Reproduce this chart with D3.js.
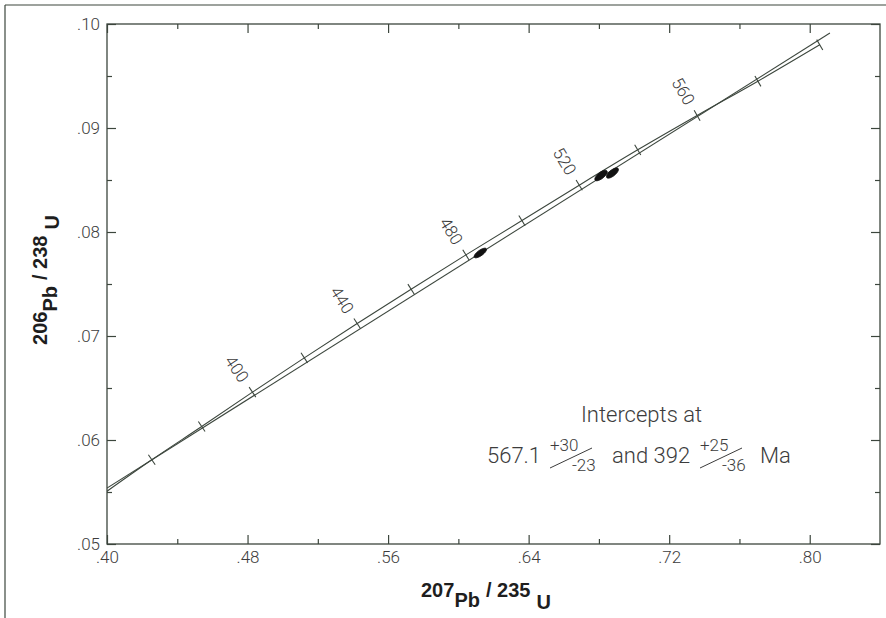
<!DOCTYPE html>
<html>
<head>
<meta charset="utf-8">
<script src="https://cdn.jsdelivr.net/npm/d3@7"></script>
<style>
  body { margin: 0; background: #fff; }
  text { font-family: Roboto, "Liberation Sans", sans-serif; }
</style>
</head>
<body>
<script>
// Concordia points (age in Ma, 207Pb/235U, 206Pb/238U).
var concAges = [340, 360, 380, 400, 420, 440, 460, 480, 500, 520, 540, 560, 580, 600];
var concX = [0.3977, 0.4255, 0.4539, 0.4828, 0.5123, 0.5424, 0.5731, 0.6043, 0.6362, 0.6688, 0.7021, 0.7359, 0.7705, 0.8057];
var concY = [0.0548, 0.0581, 0.0613, 0.0646, 0.0679, 0.0712, 0.0745, 0.0778, 0.0811, 0.0845, 0.0879, 0.0912, 0.0945, 0.0980];
var labelledAges = [400, 440, 480, 520, 560];

// Discordia line end points.
var discX = [0.400, 0.8115];
var discY = [0.05538, 0.09913];

// Analyses: centre, half-widths and correlation of the error ellipses.
var ptX = [0.6125, 0.6812, 0.6877];
var ptY = [0.07798, 0.08543, 0.08567];
var ptSx = [0.0035, 0.0035, 0.0034];
var ptSy = [0.00046, 0.00050, 0.00049];
var ptRho = [0.74, 0.70, 0.70];

// Intercept ages with errors.
var intercepts = ["567.1", "392"];
var errPlus = ["+30", "+25"];
var errMinus = ["-23", "-36"];

// Axis ticks.
var xMajor = [0.40, 0.48, 0.56, 0.64, 0.72, 0.80];
var xMinor = [0.44, 0.52, 0.60, 0.68, 0.76];
var yMajor = [0.05, 0.06, 0.07, 0.08, 0.09, 0.10];
var yMinor = [0.055, 0.065, 0.075, 0.085, 0.095];

var W = 886, H = 618;
var ink = "#3c463d";
var grey = "#3c3c3c";

var svg = d3.select("body").append("svg")
    .attr("width", W)
    .attr("height", H);

// Scanned page frame (top and left edges).
svg.append("line").attr("x1", 5).attr("x2", W).attr("y1", 5).attr("y2", 5)
    .attr("stroke", ink).attr("stroke-width", 1.2);
svg.append("line").attr("x1", 5).attr("x2", 5).attr("y1", 5).attr("y2", H)
    .attr("stroke", ink).attr("stroke-width", 1.2);

var x = d3.scaleLinear().domain([0.40, 0.84]).range([107, 880]);
var y = d3.scaleLinear().domain([0.05, 0.10]).range([544, 24]);

var fmt = v => d3.format(".2f")(v).replace(/^0/, "");

// Axes: ticks point inward on all four sides.
function addAxis(axis, tx, ty, vals, size, labels) {
    var g = svg.append("g")
        .attr("transform", "translate(" + tx + "," + ty + ")")
        .call(axis.tickValues(vals).tickSize(size).tickPadding(labels ? 7 : 0)
            .tickFormat(labels ? fmt : ""));
    g.select(".domain").remove();
    g.selectAll(".tick line").attr("stroke", ink).attr("stroke-width", 1.2);
    g.selectAll(".tick text")
        .attr("fill", grey)
        .style("font-size", "17px")
        .style("font-weight", 300);
    return g;
}

addAxis(d3.axisBottom(x), 0, y(0.05), xMajor, -9, true);
addAxis(d3.axisBottom(x), 0, y(0.05), xMinor, -5, false);
addAxis(d3.axisTop(x), 0, y(0.10), xMajor, -9, false);
addAxis(d3.axisTop(x), 0, y(0.10), xMinor, -5, false);
addAxis(d3.axisLeft(y), x(0.40), 0, yMajor, -9, true);
addAxis(d3.axisLeft(y), x(0.40), 0, yMinor, -5, false);
addAxis(d3.axisRight(y), x(0.84), 0, yMajor, -9, false);
addAxis(d3.axisRight(y), x(0.84), 0, yMinor, -5, false);

svg.append("rect")
    .attr("x", x(0.40)).attr("y", y(0.10))
    .attr("width", x(0.84) - x(0.40)).attr("height", y(0.05) - y(0.10))
    .attr("fill", "none").attr("stroke", ink).attr("stroke-width", 1.3);

svg.append("clipPath").attr("id", "plot")
    .append("rect")
    .attr("x", x(0.40)).attr("y", y(0.10))
    .attr("width", x(0.84) - x(0.40)).attr("height", y(0.05) - y(0.10));

var plot = svg.append("g").attr("clip-path", "url(#plot)");

// Concordia curve.
var conc = concAges.map((a, i) => ({ age: a, x: concX[i], y: concY[i] }));
plot.append("path")
    .datum(conc)
    .attr("fill", "none")
    .attr("stroke", ink)
    .attr("stroke-width", 1.1)
    .attr("d", d3.line().x(d => x(d.x)).y(d => y(d.y)).curve(d3.curveCatmullRom));

// Discordia line.
plot.append("line")
    .attr("x1", x(discX[0])).attr("y1", y(discY[0]))
    .attr("x2", x(discX[1])).attr("y2", y(discY[1]))
    .attr("stroke", ink)
    .attr("stroke-width", 1.1);

// Age ticks across the concordia, perpendicular to the curve.
conc.forEach((d, i) => {
    if (i === 0) return;
    var p = conc[i - 1], n = conc[Math.min(i + 1, conc.length - 1)];
    var dx = x(n.x) - x(p.x), dy = y(n.y) - y(p.y);
    var len = Math.sqrt(dx * dx + dy * dy);
    var nx = -dy / len, ny = dx / len; // normal vector
    var cx = x(d.x), cy = y(d.y);
    svg.append("line")
        .attr("x1", cx - nx * 6).attr("y1", cy - ny * 6)
        .attr("x2", cx + nx * 6).attr("y2", cy + ny * 6)
        .attr("stroke", ink).attr("stroke-width", 1.1);
    if (labelledAges.indexOf(d.age) >= 0) {
        // normal pointing to the upper left
        var ux = nx, uy = ny;
        if (uy > 0) { ux = -ux; uy = -uy; }
        var ang = Math.atan2(dy, dx) * 180 / Math.PI + 90;
        svg.append("text")
            .attr("transform", "translate(" + (cx + ux * 28) + "," + (cy + uy * 28) + ") rotate(" + ang + ")")
            .attr("text-anchor", "middle")
            .attr("dy", "0.35em")
            .attr("fill", grey)
            .style("font-size", "17px")
            .style("font-weight", 300)
            .text(d.age);
    }
});

// Error ellipses.
var ell = d3.line().curve(d3.curveLinearClosed);
ptX.forEach((cx, i) => {
    var pts = d3.range(0, 2 * Math.PI, Math.PI / 24).map(t => [
        x(cx + ptSx[i] * Math.cos(t)),
        y(ptY[i] + ptSy[i] * (ptRho[i] * Math.cos(t) + Math.sqrt(1 - ptRho[i] * ptRho[i]) * Math.sin(t)))
    ]);
    svg.append("path")
        .attr("d", ell(pts))
        .attr("fill", "#111")
        .attr("stroke", "#111")
        .attr("stroke-width", 1);
});

// Intercept annotation.
var note = svg.append("g").attr("fill", grey).style("font-weight", 300);
note.append("text").attr("x", 581).attr("y", 422).style("font-size", "22px").text("Intercepts at");

function intercept(i, x0, x1) {
    note.append("text").attr("x", x0).attr("y", 463).style("font-size", "22px")
        .text((i === 1 ? "and " : "") + intercepts[i]);
    note.append("text").attr("x", x1).attr("y", 451).style("font-size", "17px").text(errPlus[i]);
    note.append("text").attr("x", x1 + 22).attr("y", 471).style("font-size", "17px").text(errMinus[i]);
    note.append("line")
        .attr("x1", x1).attr("y1", 468).attr("x2", x1 + 42).attr("y2", 448)
        .attr("stroke", grey).attr("stroke-width", 1);
}
intercept(0, 487, 550);
intercept(1, 612, 700);
note.append("text").attr("x", 760).attr("y", 463).style("font-size", "22px").text("Ma");

// Axis titles with lowered element symbols.
function title(sel, a, el, b, el2) {
    sel.style("font-family", "'Liberation Sans', Arial, sans-serif")
        .style("font-weight", "bold")
        .style("font-size", "20px")
        .attr("fill", "#1e1e1e");
    sel.append("tspan").text(a);
    sel.append("tspan").attr("dy", 10).text(el);
    sel.append("tspan").attr("dy", -10).attr("dx", 6).text("/ " + b);
    sel.append("tspan").attr("dy", 12).attr("dx", 6).text(el2);
}
title(svg.append("text").attr("x", 421).attr("y", 597), "207", "Pb", "235", "U");
title(svg.append("text")
    .attr("transform", "translate(47,280) rotate(-90)")
    .attr("text-anchor", "middle"), "206", "Pb", "238", "U");
</script>
</body>
</html>
